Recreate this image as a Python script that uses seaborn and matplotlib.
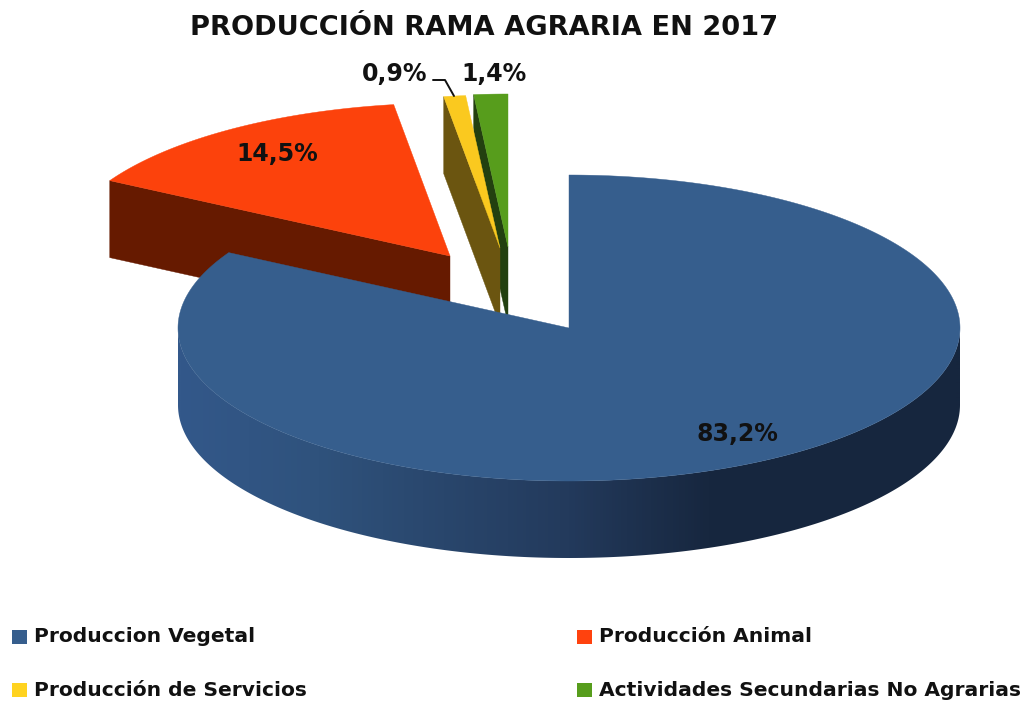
import numpy as np
import matplotlib
matplotlib.use("Agg")
import matplotlib.pyplot as plt
import matplotlib.colors as mc
from matplotlib.patches import Polygon, Rectangle
import seaborn as sns

title = "PRODUCCIÓN RAMA AGRARIA EN 2017"
categories = ["Produccion Vegetal", "Producción Animal",
              "Producción de Servicios", "Actividades Secundarias No Agrarias"]
shares = [83.2, 14.5, 0.9, 1.4]
value_labels = ["83,2%", "14,5%", "0,9%", "1,4%"]
top_colors = ["#365E8D", "#FC420C", "#FAC91F", "#579D1C"]
side_colors = ["#365E8D", "#661A00", "#6B5510", "#234010"]
legend_colors = ["#365E8D", "#FF420E", "#FFD320", "#579D1C"]

sns.set_theme(style="white")
FONT = "DejaVu Sans"
fig, ax = plt.subplots(figsize=(10.26, 7.02), dpi=100)
fig.subplots_adjust(0, 0, 1, 1)
ax.set_xlim(0, 1026)
ax.set_ylim(702, 0)
ax.axis("off")

RX, RY, DEPTH = 391, 153, 77
apexes = [(569, 328), (450, 256), (500, 248), (508, 247)]

def rim(start, end, apex, n=400):
    """Points of the ellipse, angles clockwise from 12 o'clock in degrees."""
    t = np.radians(np.linspace(start, end, n))
    return np.column_stack([apex[0] + RX * np.sin(t), apex[1] - RY * np.cos(t)])

angles = np.concatenate([[0], np.cumsum(shares) / np.sum(shares) * 360])
spans = list(zip(angles[:-1], angles[1:]))

def draw_flat(i, z):
    s, e = spans[i]
    ap = apexes[i]
    r = rim(s, e, ap)
    # inner face running from the apex to the wedge's starting corner
    side = np.array([r[0], r[0] + [0, DEPTH], [ap[0], ap[1] + DEPTH], ap])
    ax.add_patch(Polygon(side, closed=True, fc=side_colors[i], ec=side_colors[i], lw=0.3, zorder=z))
    ax.add_patch(Polygon(np.vstack([[ap], r]), closed=True, fc=top_colors[i], ec=top_colors[i], lw=0.3, zorder=z + 0.1))

draw_flat(3, 1)
draw_flat(2, 2)
draw_flat(1, 3)

# main slice: shaded rim, then the top face
a0, a1 = spans[0]
ap = apexes[0]
r = rim(90, 270, ap, 500)
cmap = mc.LinearSegmentedColormap.from_list(
    "rim", [(0.0, "#33588A"), (0.18, "#2F527C"), (0.5, "#233A5C"), (0.68, "#17273F"), (1.0, "#16263E")])
ramp = np.linspace(0, 1, 782).reshape(1, -1)
img = ax.imshow(ramp, cmap=cmap, aspect="auto", zorder=4, interpolation="bilinear",
                extent=(ap[0] - RX, ap[0] + RX, ap[1] + RY + DEPTH, ap[1]))
outline = Polygon(np.vstack([r, (r + [0, DEPTH])[::-1]]), closed=True, fc="none", ec="none", transform=ax.transData)
ax.add_patch(outline)
img.set_clip_path(outline)
ax.set_xlim(0, 1026)
ax.set_ylim(702, 0)
ax.add_patch(Polygon(np.vstack([[ap], rim(a0, a1, ap, 800)]), closed=True,
                     fc=top_colors[0], ec=top_colors[0], lw=0.3, zorder=5))

# title and value labels
ax.text(484, 28, title, ha="center", va="center", fontsize=19.6, fontweight="bold", color="#111111", family=FONT)
label_xy = [(737, 434), (277, 154), (395, 74), (494, 74)]
for (x, y), s in zip(label_xy, value_labels):
    ax.text(x, y, s, ha="center", va="center", fontsize=17, fontweight="bold", color="#111111", family=FONT, zorder=8)
ax.plot([433, 445, 454], [80, 80, 96], color="#111111", lw=1.4, zorder=8)

# legend
legend_xy = [(12, 637), (577, 637), (12, 690), (577, 690)]
for (x, y), s, c in zip(legend_xy, categories, legend_colors):
    ax.add_patch(Rectangle((x, y - 7), 15, 14, fc=c, ec="none"))
    ax.text(x + 22, y, s, ha="left", va="center", fontsize=14.6, fontweight="bold", color="#111111", family=FONT)

fig.savefig("out.png", dpi=100, facecolor="white")
